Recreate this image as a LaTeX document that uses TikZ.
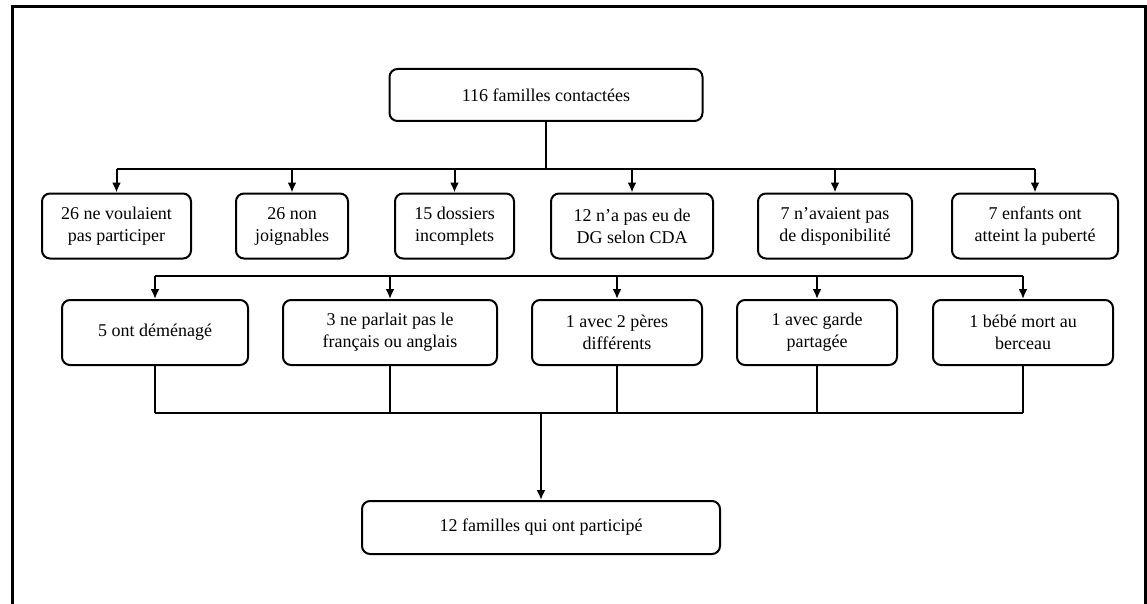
\documentclass[tikz,border=0pt]{standalone}
\usepackage{fontspec}
\setmainfont{Liberation Serif}
\usetikzlibrary{arrows.meta,calc}

\tikzset{
	fbox/.style={draw, line width=2pt, rounded corners=8pt, align=center, inner sep=2pt,
		font=\fontsize{18}{22}\selectfont},
	fline/.style={line width=2pt},
	farrow/.style={line width=2pt, -{Latex[length=10pt,width=9pt]}}
}

\begin{document}
\begin{tikzpicture}[x=1pt, y=-1pt]
			\useasboundingbox (0,0) rectangle (1147,604);
			\draw[line width=3pt] (12,604) -- (12,7) -- (1145,7) -- (1145,604);

			\coordinate (bus1) at (0,169);
\coordinate (bus2) at (0,276);
\coordinate (bus3) at (0,413);

			\node[fbox, minimum width=313pt, minimum height=52pt] (contact) at (546,95) {116 familles contactées};

			\node[fbox, minimum width=149pt, minimum height=65pt] (refus) at (116.5,226) {26 ne voulaient\\pas participer};
\node[fbox, minimum width=112pt, minimum height=65pt] (joign) at (292,226) {26 non\\joignables};
\node[fbox, minimum width=119pt, minimum height=65pt] (dossier) at (454.5,226) {15 dossiers\\incomplets};
\node[fbox, minimum width=162pt, minimum height=65pt] (cda) at (632,226) {12 n’a pas eu de\\DG selon CDA};
\node[fbox, minimum width=154pt, minimum height=65pt] (dispo) at (835,226) {7 n’avaient pas\\de disponibilité};
\node[fbox, minimum width=166pt, minimum height=65pt] (puberte) at (1035,226) {7 enfants ont\\atteint la puberté};

			\node[fbox, minimum width=186pt, minimum height=65pt] (demenag) at (155,332.5) {5 ont déménagé};
\node[fbox, minimum width=214pt, minimum height=65pt] (langue) at (390,332.5) {3 ne parlait pas le\\français ou anglais};
\node[fbox, minimum width=170pt, minimum height=65pt] (peres) at (617,332.5) {1 avec 2 pères\\différents};
\node[fbox, minimum width=160pt, minimum height=65pt] (garde) at (817,332.5) {1 avec garde\\partagée};
\node[fbox, minimum width=180pt, minimum height=65pt] (bebe) at (1023,332.5) {1 bébé mort au\\berceau};

			\node[fbox, minimum width=358pt, minimum height=53pt] (final) at (541,527.5) {12 familles qui ont participé};

			% first level
			\draw[fline] (contact.south) -- (contact.south |- bus1);
\draw[fline] (refus.north |- bus1) -- (puberte.north |- bus1);
\foreach \n in {refus,joign,dossier,cda,dispo,puberte}
	\draw[farrow] (\n.north |- bus1) -- (\n.north);
\foreach \a/\b in {refus/joign,joign/dossier,dossier/cda,cda/dispo,dispo/puberte}
	\draw[fline] ($(\a.east)!0.5!(\b.west)$ |- bus1) -- ($(\a.east)!0.5!(\b.west)$ |- bus2);

			% second level
			\draw[fline] (demenag.north |- bus2) -- (bebe.north |- bus2);
\foreach \n in {demenag,langue,peres,garde,bebe}
	\draw[farrow] (\n.north |- bus2) -- (\n.north);
\foreach \n in {demenag,langue,peres,garde,bebe}
	\draw[fline] (\n.south) -- (\n.south |- bus3);
\draw[fline] (demenag.south |- bus3) -- (bebe.south |- bus3);
\draw[farrow] (final.north |- bus3) -- (final.north);

		\end{tikzpicture}
\end{document}
